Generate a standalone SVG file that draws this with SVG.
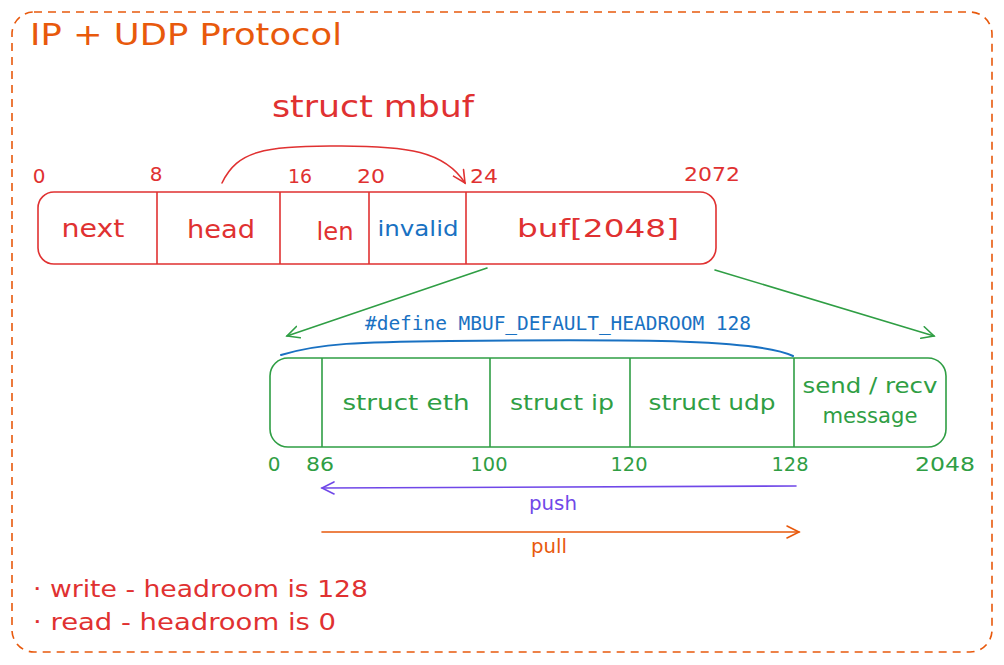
<svg xmlns="http://www.w3.org/2000/svg" width="1004" height="665" viewBox="0 0 1004 665">
<style>
text{font-family:"DejaVu Sans","Liberation Sans",sans-serif}
.red{fill:#e03131}
.grn{fill:#2f9e44}
.blu{fill:#1971c2}
.org{fill:#e8590c}
.pur{fill:#7048e8}
.num{font-size:20px;text-anchor:middle}
.lbl{font-size:25px;text-anchor:middle}
.glbl{font-size:21px;text-anchor:middle}
.mono{font-family:"DejaVu Sans Mono","Liberation Mono",monospace}
.box{fill:none;stroke-width:1.6;stroke-linecap:round}
</style>
<defs>
<marker id="arR" markerWidth="16" markerHeight="14" refX="13" refY="7" orient="auto" markerUnits="userSpaceOnUse">
<path d="M1,1 L13,7 L1,13" fill="none" stroke="#e03131" stroke-width="1.6" stroke-linecap="round"/>
</marker>
<marker id="arG" markerWidth="16" markerHeight="14" refX="13" refY="7" orient="auto" markerUnits="userSpaceOnUse">
<path d="M1,1 L13,7 L1,13" fill="none" stroke="#2f9e44" stroke-width="1.6" stroke-linecap="round"/>
</marker>
<marker id="arP" markerWidth="16" markerHeight="14" refX="13" refY="7" orient="auto" markerUnits="userSpaceOnUse">
<path d="M1,1 L13,7 L1,13" fill="none" stroke="#7048e8" stroke-width="1.6" stroke-linecap="round"/>
</marker>
<marker id="arO" markerWidth="16" markerHeight="14" refX="13" refY="7" orient="auto" markerUnits="userSpaceOnUse">
<path d="M1,1 L13,7 L1,13" fill="none" stroke="#e8590c" stroke-width="1.6" stroke-linecap="round"/>
</marker>
</defs>
<rect width="1004" height="665" fill="#ffffff"/>

<g id="frame">
<rect x="12" y="12" width="980" height="640" rx="22" fill="none" stroke="#e8590c" stroke-width="1.6" stroke-dasharray="8 6"/>
<text x="30" y="45" class="org" font-size="30" textLength="312" lengthAdjust="spacingAndGlyphs">IP + UDP Protocol</text>
</g>

<g id="mbuf-title">
<text x="272" y="117" class="red" font-size="31" textLength="202" lengthAdjust="spacingAndGlyphs">struct mbuf</text>
</g>

<g id="mbuf">
<rect x="38" y="192" width="678" height="72" rx="16" class="box" stroke="#e03131"/>
<line x1="157" y1="192" x2="157" y2="264" stroke="#e03131" stroke-width="1.6"/>
<line x1="280" y1="192" x2="280" y2="264" stroke="#e03131" stroke-width="1.6"/>
<line x1="369" y1="192" x2="369" y2="264" stroke="#e03131" stroke-width="1.6"/>
<line x1="466" y1="192" x2="466" y2="264" stroke="#e03131" stroke-width="1.6"/>
<text x="93" y="237" class="red lbl" textLength="63" lengthAdjust="spacingAndGlyphs">next</text>
<text x="221" y="238" class="red lbl" textLength="68" lengthAdjust="spacingAndGlyphs">head</text>
<text x="335" y="240" class="red lbl" textLength="37" lengthAdjust="spacingAndGlyphs">len</text>
<text x="418" y="236" class="blu" font-size="21" text-anchor="middle" textLength="81" lengthAdjust="spacingAndGlyphs">invalid</text>
<text x="598" y="237" class="red lbl" textLength="162" lengthAdjust="spacingAndGlyphs">buf[2048]</text>
</g>

<g id="mbuf-offsets">
<text x="39" y="183" class="red num">0</text>
<text x="156" y="181" class="red num">8</text>
<text x="300" y="183" class="red num" textLength="24" lengthAdjust="spacingAndGlyphs">16</text>
<text x="371" y="183" class="red num" textLength="28" lengthAdjust="spacingAndGlyphs">20</text>
<text x="484" y="183" class="red num" textLength="28" lengthAdjust="spacingAndGlyphs">24</text>
<text x="712" y="181" class="red num" textLength="56" lengthAdjust="spacingAndGlyphs">2072</text>
</g>

<g id="define">
<text x="558" y="330" class="blu mono" font-size="19.5" text-anchor="middle" textLength="386">#define MBUF_DEFAULT_HEADROOM 128</text>
</g>

<g id="buffer">
<rect x="270" y="358" width="676" height="89" rx="18" class="box" stroke="#2f9e44"/>
<line x1="322" y1="358" x2="322" y2="447" stroke="#2f9e44" stroke-width="1.6"/>
<line x1="490" y1="358" x2="490" y2="447" stroke="#2f9e44" stroke-width="1.6"/>
<line x1="630" y1="358" x2="630" y2="447" stroke="#2f9e44" stroke-width="1.6"/>
<line x1="794" y1="358" x2="794" y2="447" stroke="#2f9e44" stroke-width="1.6"/>
<text x="406" y="410" class="grn glbl" textLength="127" lengthAdjust="spacingAndGlyphs">struct eth</text>
<text x="562" y="410" class="grn glbl" textLength="104" lengthAdjust="spacingAndGlyphs">struct ip</text>
<text x="712" y="410" class="grn glbl" textLength="127" lengthAdjust="spacingAndGlyphs">struct udp</text>
<text x="870" y="393" class="grn glbl" textLength="135" lengthAdjust="spacingAndGlyphs">send / recv</text>
<text x="870" y="423" class="grn glbl" textLength="95" lengthAdjust="spacingAndGlyphs">message</text>
</g>

<g id="buffer-offsets">
<text x="274" y="471" class="grn num">0</text>
<text x="320" y="471" class="grn num" textLength="28" lengthAdjust="spacingAndGlyphs">86</text>
<text x="489" y="471" class="grn num" textLength="37" lengthAdjust="spacingAndGlyphs">100</text>
<text x="629" y="471" class="grn num" textLength="37" lengthAdjust="spacingAndGlyphs">120</text>
<text x="790" y="471" class="grn num" textLength="37" lengthAdjust="spacingAndGlyphs">128</text>
<text x="945" y="471" class="grn num" textLength="60" lengthAdjust="spacingAndGlyphs">2048</text>
</g>

<g id="connectors" fill="none" stroke-width="1.6" stroke-linecap="round">
<path d="M222,183 C238,150 265,147 330,146 C410,145 445,152 465,183" stroke="#e03131" marker-end="url(#arR)"/>
<path d="M487,268 L287,336" stroke="#2f9e44" marker-end="url(#arG)"/>
<path d="M715,270 L934,336" stroke="#2f9e44" marker-end="url(#arG)"/>
<path d="M281,355 C320,343 360,342 450,341 C650,339 760,340 793,356" stroke="#1971c2" stroke-width="2"/>
<path d="M796,486 L322,488" stroke="#7048e8" marker-end="url(#arP)"/>
<path d="M322,532 L799,532" stroke="#e8590c" marker-end="url(#arO)"/>
</g>

<g id="push-pull">
<text x="553" y="510" class="pur" font-size="19" text-anchor="middle" textLength="48" lengthAdjust="spacingAndGlyphs">push</text>
<text x="549" y="553" class="org" font-size="19" text-anchor="middle" textLength="36" lengthAdjust="spacingAndGlyphs">pull</text>
</g>

<g id="notes">
<text x="33" y="597" class="red" font-size="23" textLength="335" lengthAdjust="spacingAndGlyphs">· write - headroom is 128</text>
<text x="33" y="630" class="red" font-size="23" textLength="303" lengthAdjust="spacingAndGlyphs">· read - headroom is 0</text>
</g>
</svg>
